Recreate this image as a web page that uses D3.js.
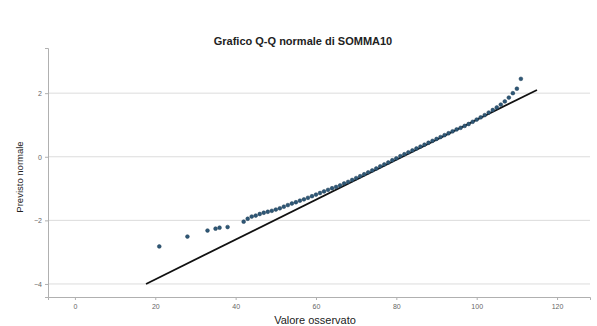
<!DOCTYPE html>
<html><head><meta charset="utf-8">
<script src="https://cdn.jsdelivr.net/npm/d3@7"></script>
<style>body{margin:0;background:#fff;} text{font-family:"Liberation Sans",Arial,sans-serif;}</style>
</head><body><svg id="c" width="597" height="326"></svg>
<script>
const title = "Grafico Q-Q normale di SOMMA10";
const xLabel = "Valore osservato";
const yLabel = "Previsto normale";
const xTicks = [0, 20, 40, 60, 80, 100, 120];
const yTicks = [-4, -2, 0, 2];
const observed = [21,28,33,35,36,38,42,43,44,45,46,47,48,49,50,51,52,53,54,55,56,57,58,59,60,61,62,63,64,65,66,67,68,69,70,71,72,73,74,75,76,77,78,79,80,81,82,83,84,85,86,87,88,89,90,91,92,93,94,95,96,97,98,99,100,101,102,103,104,105,106,107,108,109,110,111];
const expected = [-2.82,-2.51,-2.32,-2.26,-2.23,-2.21,-2.04,-1.95,-1.88,-1.85,-1.80,-1.76,-1.73,-1.70,-1.66,-1.62,-1.57,-1.52,-1.47,-1.43,-1.38,-1.34,-1.29,-1.24,-1.19,-1.14,-1.09,-1.04,-0.99,-0.95,-0.90,-0.84,-0.79,-0.73,-0.67,-0.61,-0.55,-0.49,-0.43,-0.37,-0.30,-0.24,-0.18,-0.11,-0.05,0.02,0.08,0.14,0.20,0.26,0.32,0.38,0.44,0.50,0.56,0.62,0.68,0.74,0.80,0.86,0.91,0.97,1.03,1.10,1.17,1.24,1.31,1.39,1.47,1.55,1.64,1.74,1.86,2.00,2.14,2.45];
const refLineX = [17.7, 115];
const refLineY = [-4.0, 2.1];

const svg = d3.select("#c");
const x = d3.scaleLinear().domain([-6.7, 128.2]).range([48, 590]);
const y = d3.scaleLinear().domain([-4.41, 3.42]).range([297, 48]);

// gridlines
svg.append("g").selectAll("line").data(yTicks).join("line")
  .attr("x1", 48).attr("x2", 590)
  .attr("y1", d => y(d)).attr("y2", d => y(d))
  .attr("stroke", "#dcdcdc").attr("stroke-width", 1);

// axes
const xAxis = svg.append("g").attr("transform", "translate(0,297)")
  .call(d3.axisBottom(x).tickValues(xTicks).tickSize(3).tickFormat(d3.format("d")));
const yAxis = svg.append("g").attr("transform", "translate(48,0)")
  .call(d3.axisLeft(y).tickValues(yTicks).tickSize(3).tickFormat(d3.format("d")));
[xAxis, yAxis].forEach(a => {
  a.select(".domain").attr("stroke", "#b0b0b0");
  a.selectAll(".tick line").attr("stroke", "#b0b0b0");
  a.selectAll(".tick text").attr("fill", "#666").style("font-size", "7px")
   .style("font-family", "'Liberation Sans',Arial,sans-serif");
});
xAxis.selectAll(".tick text").attr("dy", "0.9em");

// reference line
svg.append("line")
  .attr("x1", x(refLineX[0])).attr("y1", y(refLineY[0]))
  .attr("x2", x(refLineX[1])).attr("y2", y(refLineY[1]))
  .attr("stroke", "#111").attr("stroke-width", 1.8);

// points
svg.append("g").selectAll("circle").data(observed).join("circle")
  .attr("cx", d => x(d)).attr("cy", (d, i) => y(expected[i]))
  .attr("r", 1.9).attr("fill", "#2e5877").attr("stroke", "#1f3c55").attr("stroke-width", 0.5);

// texts
svg.append("text").attr("x", 303).attr("y", 45).attr("text-anchor", "middle")
  .style("font-size", "11px").style("font-weight", "bold").attr("fill", "#222").text(title);
svg.append("text").attr("x", 315).attr("y", 324).attr("text-anchor", "middle")
  .style("font-size", "11px").attr("fill", "#222").text(xLabel);
svg.append("text").attr("transform", "translate(23,177) rotate(-90)").attr("text-anchor", "middle")
  .style("font-size", "9.5px").attr("fill", "#222").text(yLabel);
</script></body></html>
